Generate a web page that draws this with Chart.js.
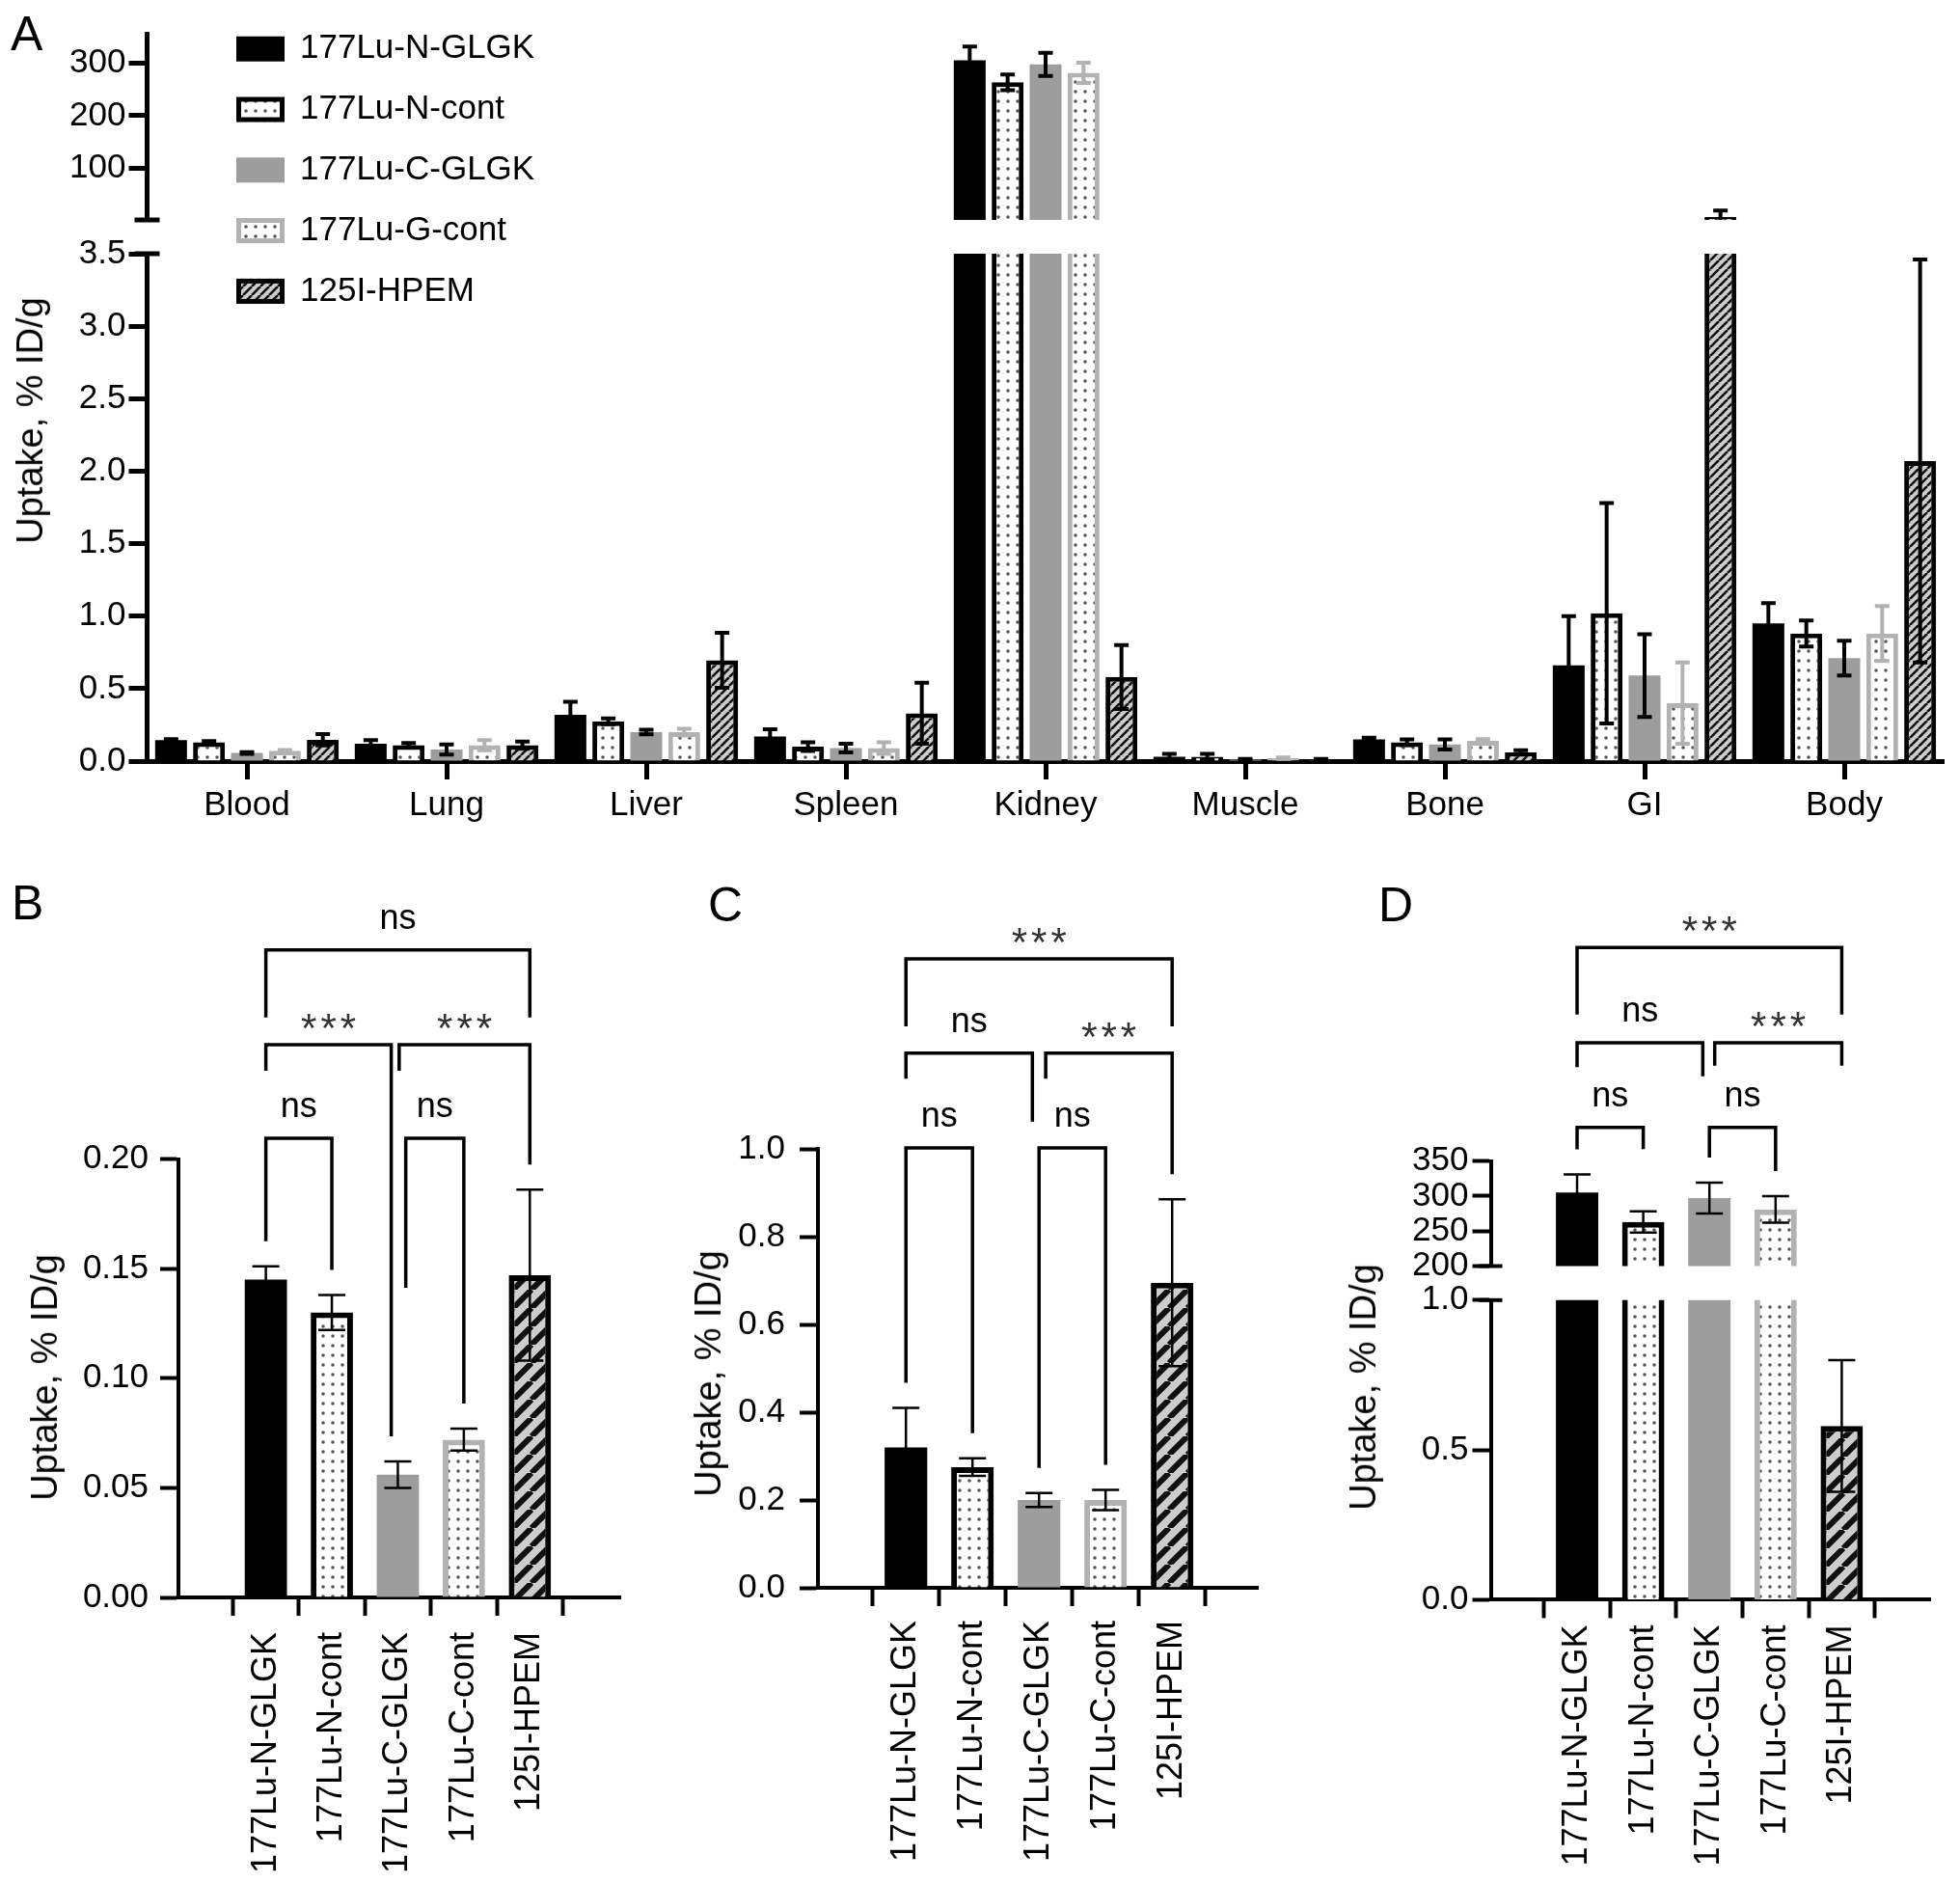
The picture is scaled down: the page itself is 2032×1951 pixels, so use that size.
<!DOCTYPE html>
<html>
<head>
<meta charset="utf-8">
<title>Biodistribution uptake</title>
<script src="https://cdn.jsdelivr.net/npm/chart.js@4.4.1/dist/chart.umd.min.js"></script>
<style>
  html, body { margin: 0; padding: 0; background: #fff; }
  #fig { position: relative; width: 2032px; height: 1951px; overflow: hidden;
         font-family: "Liberation Sans", Arial, Helvetica, sans-serif; color: #000; }
  #fig canvas { position: absolute; }
  .letter { position: absolute; font-size: 50px; line-height: 1; }
  .ytitle { position: absolute; font-size: 38px; line-height: 1; white-space: nowrap;
            transform: translate(-50%, -50%) rotate(-90deg); }
</style>
</head>
<body>
<div id="fig">
  <canvas id="aLow" width="2032" height="880" style="left:0;top:0"></canvas>
  <canvas id="aTop" width="2032" height="260" style="left:0;top:0"></canvas>
  <canvas id="panelB" width="680" height="1051" style="left:0;top:900px"></canvas>
  <canvas id="panelC" width="680" height="1051" style="left:680px;top:900px"></canvas>
  <canvas id="dLow" width="672" height="631" style="left:1360px;top:1320px"></canvas>
  <canvas id="dTop" width="672" height="440" style="left:1360px;top:900px"></canvas>

  <div class="letter" style="left:11px;top:10px">A</div>
  <div class="letter" style="left:12px;top:911px">B</div>
  <div class="letter" style="left:734px;top:913px">C</div>
  <div class="letter" style="left:1429px;top:913px">D</div>

  <div class="ytitle" style="left:31px;top:436px">Uptake, % ID/g</div>
  <div class="ytitle" style="left:46px;top:1428px">Uptake, % ID/g</div>
  <div class="ytitle" style="left:734px;top:1424px">Uptake, % ID/g</div>
  <div class="ytitle" style="left:1413px;top:1438px">Uptake, % ID/g</div>
</div>

<script>
// ── Data (% ID/g), organ order as in panel A ────────────────────────────────
const organs       = ["Blood", "Lung", "Liver", "Spleen", "Kidney", "Muscle", "Bone", "GI", "Body"];
const legendLabels = ["177Lu-N-GLGK", "177Lu-N-cont", "177Lu-C-GLGK", "177Lu-G-cont", "125I-HPEM"];
const barLabels    = ["177Lu-N-GLGK", "177Lu-N-cont", "177Lu-C-GLGK", "177Lu-C-cont", "125I-HPEM"];

const nGlgk    = [0.145, 0.12,  0.32,  0.17, 305, 0.03,  0.15,  0.66, 0.95];
const nGlgkErr = [0.006, 0.025, 0.09,  0.05,  26, 0.02,  0.012, 0.34, 0.14];
const nCont    = [0.130, 0.11,  0.275, 0.10, 263, 0.03,  0.13,  1.02, 0.88];
const nContErr = [0.008, 0.015, 0.02,  0.03,  15, 0.02,  0.02,  0.76, 0.09];
const cGlgk    = [0.056, 0.08,  0.20,  0.09, 297, 0.01,  0.115, 0.59, 0.71];
const cGlgkErr = [0.006, 0.035, 0.016, 0.03,  22, 0.005, 0.035, 0.285, 0.12];
const cCont    = [0.072, 0.11,  0.20,  0.09, 281, 0.02,  0.14,  0.40, 0.88];
const cContErr = [0.005, 0.035, 0.023, 0.04,  19, 0.005, 0.012, 0.28, 0.19];
const hpem     = [0.147, 0.11,  0.695, 0.33, 0.58, 0.01, 0.06,  8,    2.07];
const hpemErr  = [0.039, 0.025, 0.19,  0.21, 0.22, 0.005, 0.015, 12.5, 1.39];

// tick values of the upper (broken) segment in panel A
const ticksATop = [100, 200, 300];

// significance brackets: bar positions, level and leg ends in data units
// (a null leg runs down to just above that bar's error bar)
const bracketsB = [
  { from: 0,    to: 1,   level: 0.2095, legs: [null, null],     text: "ns" },
  { from: 2.12, to: 3,   level: 0.2095, legs: [0.1412, null],   text: "ns" },
  { from: 0,    to: 1.9, level: 0.2522, legs: [0.2403, null],   text: "***" },
  { from: 2.02, to: 4,   level: 0.2522, legs: [0.2403, null],   text: "***" },
  { from: 0,    to: 4,   level: 0.2954, legs: [0.2646, 0.2646], text: "ns" },
];
const bracketsC = [
  { from: 0,   to: 1,   level: 1.002, legs: [null, null],   text: "ns" },
  { from: 2,   to: 3,   level: 1.002, legs: [null, null],   text: "ns" },
  { from: 0,   to: 1.9, level: 1.218, legs: [1.160, 1.062], text: "ns" },
  { from: 2.1, to: 4,   level: 1.218, legs: [1.160, null],  text: "***" },
  { from: 0,   to: 4,   level: 1.433, legs: [1.279, 1.279], text: "***" },
];
const bracketsD = [
  { from: 0,    to: 1,   level: 398, legs: [null, 367], text: "ns" },
  { from: 2,    to: 3,   level: 398, legs: [null, null], text: "ns" },
  { from: 0,    to: 1.9, level: 519, legs: [484, 471],  text: "ns" },
  { from: 2.08, to: 4,   level: 519, legs: [486, 486],  text: "***" },
  { from: 0,    to: 4,   level: 655, legs: [559, 559],  text: "***" },
];

// ── Colour tokens ────────────────────────────────────────────────────────────
const INK   = "#000000";
const GREY  = "#9d9d9d";
const PALE  = "#b2b2b2";
const DOT   = "#555555";
const HATCH = "#cdcdcd";
const FONT  = '"Liberation Sans", Arial, Helvetica, sans-serif';

Chart.defaults.font.family = FONT;
Chart.defaults.color = INK;

// ── Fill patterns ────────────────────────────────────────────────────────────
function dotPattern(step, r) {
  const c = document.createElement("canvas");
  c.width = step; c.height = step;
  const g = c.getContext("2d");
  g.fillStyle = "#fff"; g.fillRect(0, 0, step, step);
  g.fillStyle = DOT;
  g.beginPath(); g.arc(step / 2, step / 2, r, 0, Math.PI * 2); g.fill();
  return g.createPattern(c, "repeat");
}

function hatchPattern(step, w) {
  const c = document.createElement("canvas");
  c.width = step; c.height = step;
  const g = c.getContext("2d");
  g.fillStyle = HATCH; g.fillRect(0, 0, step, step);
  g.strokeStyle = "#111"; g.lineWidth = w;
  g.beginPath();
  [-step, 0, step].forEach(o => { g.moveTo(o, step); g.lineTo(o + step, 0); });
  g.stroke();
  return g.createPattern(c, "repeat");
}

const dotsA  = dotPattern(10, 1.8);
const hatchA = hatchPattern(9, 2.6);
const dotsB  = dotPattern(10, 1.8);
const hatchB = hatchPattern(19, 6);

// ── Plugins ──────────────────────────────────────────────────────────────────
const yOf = d => (typeof d === "object" ? d.y : d);

const errorBars = {
  id: "errorBars",
  afterDatasetsDraw(chart, args, o) {
    const { ctx, chartArea: a } = chart;
    const ys = chart.scales.y;
    ctx.save();
    ctx.beginPath();
    ctx.rect(a.left, a.top, a.right - a.left, a.bottom - a.top);
    ctx.clip();
    ctx.lineWidth = o.width;
    chart.data.datasets.forEach((ds, di) => {
      chart.getDatasetMeta(di).data.forEach((bar, i) => {
        const v = yOf(ds.data[i]), e = ds.errors[i];
        // the bar's mean belongs to the other segment of a broken axis
        if (v > ys.max || v < ys.min) return;
        const top = ys.getPixelForValue(v + e);
        const bot = ys.getPixelForValue(v - e);
        const h = o.cap / 2;
        ctx.strokeStyle = Array.isArray(ds.errorColor) ? ds.errorColor[i] : ds.errorColor;
        ctx.beginPath();
        ctx.moveTo(bar.x, bot); ctx.lineTo(bar.x, top);
        ctx.moveTo(bar.x - h, top); ctx.lineTo(bar.x + h, top);
        ctx.moveTo(bar.x - h, bot); ctx.lineTo(bar.x + h, bot);
        ctx.stroke();
      });
    });
    ctx.restore();
  },
};

const brackets = {
  id: "brackets",
  afterDraw(chart, args, o) {
    if (!o.items) return;
    const { ctx } = chart;
    const xs = chart.scales.x, ys = chart.scales.y;
    const ds = chart.data.datasets[0];
    const legEnd = (pos, lv) => {
      if (lv !== null) return ys.getPixelForValue(lv);
      const k = Math.round(pos);
      return ys.getPixelForValue(ds.data[k].y + ds.errors[k]) - o.gap;
    };
    ctx.save();
    ctx.strokeStyle = INK;
    ctx.lineWidth = o.width;
    ctx.lineJoin = "miter";
    ctx.textAlign = "center";
    ctx.textBaseline = "alphabetic";
    o.items.forEach(b => {
      const x1 = xs.getPixelForValue(b.from), x2 = xs.getPixelForValue(b.to);
      const y = ys.getPixelForValue(b.level);
      ctx.beginPath();
      ctx.moveTo(x1, legEnd(b.from, b.legs[0]));
      ctx.lineTo(x1, y);
      ctx.lineTo(x2, y);
      ctx.lineTo(x2, legEnd(b.to, b.legs[1]));
      ctx.stroke();
      const stars = b.text === "***";
      ctx.font = (stars ? "42px " : "36px ") + FONT;
      ctx.fillStyle = stars ? "#333" : INK;
      if ("letterSpacing" in ctx) ctx.letterSpacing = stars ? "4px" : "0px";
      ctx.fillText(b.text, (x1 + x2) / 2 + (stars ? 2 : 0), y - (stars ? 3 : 22));
    });
    ctx.restore();
  },
};

const breakMarks = {
  id: "breakMarks",
  afterDraw(chart, args, o) {
    if (!o.values) return;
    const { ctx, chartArea: a } = chart;
    const ys = chart.scales.y;
    ctx.save();
    ctx.strokeStyle = INK;
    ctx.lineWidth = o.width;
    o.values.forEach(v => {
      const y = ys.getPixelForValue(v);
      ctx.beginPath();
      ctx.moveTo(a.left - o.len, y);
      ctx.lineTo(a.left + o.len, y);
      ctx.stroke();
    });
    ctx.restore();
  },
};

const boxLegend = {
  id: "boxLegend",
  afterDraw(chart, args, o) {
    if (!o.show) return;
    const { ctx } = chart;
    ctx.save();
    ctx.font = o.size + "px " + FONT;
    ctx.textBaseline = "middle";
    chart.data.datasets.forEach((ds, i) => {
      const cy = o.y + i * o.step, top = cy - o.h / 2;
      ctx.fillStyle = ds.backgroundColor;
      ctx.fillRect(o.x, top, o.w, o.h);
      if (ds.borderWidth) {
        const bw = ds.borderWidth;
        ctx.strokeStyle = ds.borderColor;
        ctx.lineWidth = bw;
        ctx.strokeRect(o.x + bw / 2, top + bw / 2, o.w - bw, o.h - bw);
      }
      ctx.fillStyle = INK;
      ctx.fillText(ds.label, o.x + o.w + o.gap, cy);
    });
    ctx.restore();
  },
};

// ── Shared axis builders ─────────────────────────────────────────────────────
function yAxis(min, max, step, width, digits, pad, lw) {
  return {
    min, max,
    ticks: { stepSize: step, padding: pad, color: INK, font: { size: 35 }, autoSkip: false,
             callback: v => Number(v).toFixed(digits) },
    grid: { drawOnChartArea: false, tickLength: 19, tickWidth: lw, color: INK },
    border: { color: INK, width: lw },
    afterFit: s => { s.width = width; },
  };
}

function xLinear(min, max, height, pad, show) {
  return {
    type: "linear", min, max, display: show,
    afterBuildTicks: s => { s.ticks = barLabels.map((_, i) => ({ value: i })); },
    ticks: { autoSkip: false, minRotation: 90, maxRotation: 90, padding: pad,
             color: INK, font: { size: 36 }, callback: v => barLabels[v] },
    grid: { drawOnChartArea: false, tickLength: 19, tickWidth: 4, color: INK },
    border: { color: INK, width: 4 },
    afterFit: s => { s.height = height; },
  };
}

// ── Panel A (two stacked charts forming the broken axis) ─────────────────────
const seriesVals = [nGlgk, nCont, cGlgk, cCont, hpem];
const seriesErrs = [nGlgkErr, nContErr, cGlgkErr, cContErr, hpemErr];
const fillsA     = [INK, dotsA, GREY, dotsA, hatchA];
const bordersA   = [INK, INK, GREY, PALE, INK];
const widthsA    = [0, 5, 0, 5, 5];
const errColA    = [INK, INK, INK, PALE, INK];

function datasetsA() {
  return seriesVals.map((vals, s) => ({
    label: legendLabels[s],
    data: vals,
    errors: seriesErrs[s],
    backgroundColor: fillsA[s],
    borderColor: bordersA[s],
    borderWidth: widthsA[s],
    errorColor: errColA[s],
    categoryPercentage: 0.95,
    barPercentage: 0.84,
    clip: 0,
  }));
}

new Chart(document.getElementById("aLow"), {
  type: "bar",
  data: { labels: organs, datasets: datasetsA() },
  options: {
    responsive: false,
    animation: false,
    events: [],
    layout: { padding: { top: 263, right: 16.5, bottom: 0, left: 0 } },
    plugins: {
      legend: { display: false },
      tooltip: { enabled: false },
      errorBars: { width: 4, cap: 15 },
      breakMarks: { values: [3.5], len: 13, width: 5 },
      boxLegend: { show: true, x: 245, y: 50.7, step: 62.8, w: 50, h: 26, gap: 16, size: 35 },
    },
    scales: {
      x: {
        grid: { drawOnChartArea: false, offset: false, tickLength: 19, tickWidth: 5, color: INK },
        border: { color: INK, width: 5 },
        ticks: { color: INK, font: { size: 35 }, padding: 6, maxRotation: 0, autoSkip: false },
        afterFit: s => { s.height = 91; },
      },
      y: yAxis(0, 3.5, 0.5, 152.5, 1, 3, 5),
    },
  },
  plugins: [errorBars, breakMarks, boxLegend],
});

new Chart(document.getElementById("aTop"), {
  type: "bar",
  data: { labels: organs, datasets: datasetsA() },
  options: {
    responsive: false,
    animation: false,
    events: [],
    layout: { padding: { top: 35, right: 16.5, bottom: 32, left: 0 } },
    plugins: {
      legend: { display: false },
      tooltip: { enabled: false },
      errorBars: { width: 4, cap: 15 },
      breakMarks: { values: [2.5], len: 13, width: 5 },
    },
    scales: {
      x: { display: false },
      y: Object.assign(yAxis(2.5, 355, 100, 152.5, 0, 3, 5), {
        afterBuildTicks: s => { s.ticks = ticksATop.map(v => ({ value: v })); },
      }),
    },
  },
  plugins: [errorBars, breakMarks],
});

// ── Panels B, C, D (one organ column each) ───────────────────────────────────
function panelData(k) {
  return {
    datasets: [{
      data: seriesVals.map((s, i) => ({ x: i, y: s[k] })),
      errors: seriesErrs.map(s => s[k]),
      backgroundColor: [INK, dotsB, GREY, dotsB, hatchB],
      borderColor: [INK, INK, GREY, PALE, INK],
      borderWidth: [0, 6, 0, 6, 6],
      errorColor: INK,
      categoryPercentage: 1,
      barPercentage: 0.64,
      clip: 0,
    }],
  };
}

function panel(id, k, padding, x, y, extra) {
  return new Chart(document.getElementById(id), {
    type: "bar",
    data: panelData(k),
    options: {
      responsive: false,
      animation: false,
      events: [],
      layout: { padding },
      plugins: Object.assign({
        legend: { display: false },
        tooltip: { enabled: false },
        errorBars: { width: 2.5, cap: 28 },
      }, extra),
      scales: { x, y },
    },
    plugins: [errorBars, brackets, breakMarks],
  });
}

const organIdx = name => organs.indexOf(name);

// B: blood
panel("panelB", organIdx("Blood"),
  { top: 301.5, right: 37, bottom: 0, left: 0 },
  xLinear(-0.655, 4.70, 295, 17, true),
  yAxis(0, 0.2, 0.05, 185, 2, 12, 4),
  { brackets: { items: bracketsB, gap: 26, width: 3.5 } });

// C: liver
panel("panelC", organIdx("Liver"),
  { top: 291, right: 56, bottom: 0, left: 0 },
  xLinear(-0.661, 4.626, 305, 15, true),
  yAxis(0, 1.0, 0.2, 168, 1, 15, 4),
  { brackets: { items: bracketsC, gap: 26, width: 3.5 } });

// D: kidney, lower segment
panel("dLow", organIdx("Kidney"),
  { top: 27.8, right: 30.4, bottom: 0, left: 0 },
  xLinear(-0.640, 4.679, 292.6, 7, true),
  yAxis(0, 1.0, 0.5, 185.5, 1, 4, 4),
  { breakMarks: { values: [1.0], len: 12, width: 4 } });

// D: upper segment carries the brackets
panel("dTop", organIdx("Kidney"),
  { top: 303.6, right: 30.4, bottom: 27.5, left: 0 },
  xLinear(-0.640, 4.679, 0, 7, false),
  yAxis(200, 350, 50, 185.5, 0, 4, 4),
  { brackets: { items: bracketsD, gap: 26, width: 3.5 },
    breakMarks: { values: [200], len: 12, width: 4 } });
</script>
</body>
</html>
